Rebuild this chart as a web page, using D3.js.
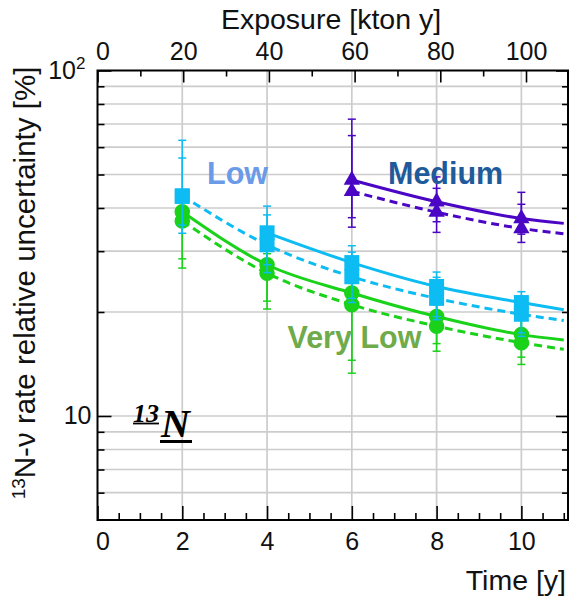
<!DOCTYPE html>
<html>
<head>
<meta charset="utf-8">
<script src="https://cdn.jsdelivr.net/npm/d3@7"></script>
<style>
  body { margin: 0; background: #fff; }
  svg { display: block; font-family: "Liberation Sans", Arial, sans-serif; }
</style>
</head>
<body>
<div id="chart"></div>
<script>
/* 13N-nu rate relative uncertainty vs time */

const timeTicks = [0, 2, 4, 6, 8, 10];
const timeMinor = [0.5, 1, 1.5, 2.5, 3, 3.5, 4.5, 5, 5.5, 6.5, 7, 7.5, 8.5, 9, 9.5, 10.5, 11];
const exposureTicks = [0, 20, 40, 60, 80, 100];
const exposureMinor = [10, 30, 50, 70, 90];
const yMajor = [10, 100];
const yMinor = [6, 7, 8, 9, 20, 30, 40, 50, 60, 70, 80, 90];

const markerTimes = [2, 4, 6, 8, 10];
const mediumTimes = [6, 8, 10];

// Very Low (green circles)
const vlowA   = [39.0, 27.4, 22.7, 19.4, 17.2];
const vlowAHi = [40.5, 30.3, 24.8, 21.4, 19.3];
const vlowALo = [26.8, 20.4, 13.3, 15.4, 14.1];
const vlowB   = [36.7, 25.9, 21.0, 18.2, 16.3];
const vlowBHi = [38.5, 29.5, 24.2, 21.0, 19.0];
const vlowBLo = [28.5, 21.5, 14.5, 16.2, 14.8];

// Low (cyan squares)
const lowA   = [43.4, 33.9, 27.8, 23.7, 21.3];
const lowAHi = [62.8, 40.5, 31.1, 26.1, 22.9];
const lowALo = [33.8, 26.0, 21.9, 19.4, 17.4];
const lowB   = [43.2, 31.3, 25.3, 21.9, 19.7];
const lowBHi = [55.8, 38.2, 29.8, 25.2, 22.0];
const lowBLo = [35.7, 27.4, 21.3, 19.0, 17.0];

// Medium (purple triangles)
const medA   = [48.2, 41.7, 37.3];
const medAHi = [72.3, 49.2, 44.4];
const medALo = [37.5, 36.5, 33.6];
const medB   = [44.7, 38.9, 34.9];
const medBHi = [64.8, 45.6, 41.0];
const medBLo = [35.2, 34.0, 31.8];

// fitted curves (solid / dashed)
const fitTimes     = [2, 4, 6, 8, 10, 11];
const vlowSolidFit = [39.0, 27.4, 22.7, 19.4, 17.2, 16.6];
const vlowDashFit  = [36.7, 25.9, 21.0, 18.2, 16.3, 15.6];
const lowSolidFit  = [null, 33.9, 27.8, 23.7, 21.3, 20.3];
const lowDashFit   = [43.4, 31.3, 25.3, 21.9, 19.7, 18.9];
const medSolidFit  = [null, null, 48.2, 41.7, 37.3, 36.1];
const medDashFit   = [null, null, 44.7, 38.9, 34.9, 33.7];

const width = 569,
      height = 599,
      margin = ({ top: 70.5, right: 1, bottom: 79, left: 97.5 });

const colVLow = "#19d219",
      colLow = "#0cbcf2",
      colMed = "#4a06c4";

let svg = d3.select("#chart")
            .append("svg")
            .attr("width", width)
            .attr("height", height)
            .attr("viewBox", [0, 0, width, height]);

const x = d3.scaleLinear()
            .domain([0, 11.1])
            .range([margin.left, width - margin.right]);

const xTop = d3.scaleLinear()
            .domain([0, 109.8])
            .range([margin.left, width - margin.right]);

const y = d3.scaleLog()
            .domain([5, 100])
            .range([height - margin.bottom, margin.top]);

const x0 = margin.left, x1 = width - margin.right,
      y0 = height - margin.bottom, y1 = margin.top;

// grid
const grid = svg.append("g").attr("stroke", "#cccccc").attr("stroke-width", 1.7);
grid.selectAll(".gx")
    .data(timeTicks.filter(d => d > 0))
    .join("line")
    .attr("x1", d => x(d)).attr("x2", d => x(d))
    .attr("y1", y0).attr("y2", y1);
grid.selectAll(".gy")
    .data(yMinor.concat([10]))
    .join("line")
    .attr("x1", x0).attr("x2", x1)
    .attr("y1", d => y(d)).attr("y2", d => y(d));

// one group of points: curves, error bars, markers
function drawGroup(times, series, fits, color, symbol, size) {
    const g = svg.append("g");

    const line = d3.line()
        .defined(d => d[1] != null)
        .x(d => x(d[0]))
        .y(d => y(d[1]))
        .curve(d3.curveMonotoneX);

    fits.forEach((f, i) => {
        g.append("path")
            .attr("d", line(fitTimes.map((t, j) => [t, f[j]])))
            .attr("fill", "none")
            .attr("stroke", color)
            .attr("stroke-width", 3)
            .attr("stroke-dasharray", i === 1 ? "8,5" : null);
    });

    for (let s of series) {
        const pts = times.map((t, j) => ({ t: t, v: s.v[j], hi: s.hi[j], lo: s.lo[j] }));
        const eb = g.append("g").attr("stroke", color).attr("stroke-width", 1.5);
        eb.selectAll(".bar").data(pts).join("line")
            .attr("x1", d => x(d.t)).attr("x2", d => x(d.t))
            .attr("y1", d => y(d.lo)).attr("y2", d => y(d.hi));
        eb.selectAll(".capHi").data(pts).join("line")
            .attr("x1", d => x(d.t) - 4).attr("x2", d => x(d.t) + 4)
            .attr("y1", d => y(d.hi)).attr("y2", d => y(d.hi));
        eb.selectAll(".capLo").data(pts).join("line")
            .attr("x1", d => x(d.t) - 4).attr("x2", d => x(d.t) + 4)
            .attr("y1", d => y(d.lo)).attr("y2", d => y(d.lo));
    }
    for (let s of series) {
        g.selectAll(null).data(times.map((t, j) => [t, s.v[j]])).join("path")
            .attr("transform", d => `translate(${x(d[0])},${y(d[1])})`)
            .attr("d", d3.symbol(symbol, size))
            .attr("fill", color);
    }
}

drawGroup(markerTimes,
    [{ v: vlowA, hi: vlowAHi, lo: vlowALo }, { v: vlowB, hi: vlowBHi, lo: vlowBLo }],
    [vlowSolidFit, vlowDashFit], colVLow, d3.symbolCircle, 190);

drawGroup(markerTimes,
    [{ v: lowA, hi: lowAHi, lo: lowALo }, { v: lowB, hi: lowBHi, lo: lowBLo }],
    [lowSolidFit, lowDashFit], colLow, d3.symbolSquare, 225);

drawGroup(mediumTimes,
    [{ v: medA, hi: medAHi, lo: medALo }, { v: medB, hi: medBHi, lo: medBLo }],
    [medSolidFit, medDashFit], colMed, d3.symbolTriangle, 115);

// frame
svg.append("rect")
    .attr("x", x0).attr("y", y1)
    .attr("width", x1 - x0).attr("height", y0 - y1)
    .attr("fill", "none").attr("stroke", "#000").attr("stroke-width", 2);

// axes
const tickStyle = g => {
    g.select(".domain").remove();
    g.selectAll("line").attr("stroke", "#000").attr("stroke-width", 1.6);
    g.selectAll("text").attr("font-size", 25).attr("fill", "#111")
        .attr("font-family", "Liberation Sans, Arial, sans-serif");
};

svg.append("g")
    .attr("transform", `translate(0,${y0})`)
    .call(d3.axisBottom(x).tickValues(timeTicks).tickSize(-14).tickPadding(12).tickFormat(d3.format("d")))
    .call(tickStyle)
    .call(g => g.selectAll("text").filter(d => d === 0).attr("dx", 5));

svg.append("g")
    .attr("transform", `translate(0,${y0})`)
    .call(d3.axisBottom(x).tickValues(timeMinor).tickSize(-7).tickFormat(""))
    .call(tickStyle);

svg.append("g")
    .attr("transform", `translate(0,${y1})`)
    .call(d3.axisTop(xTop).tickValues(exposureTicks).tickSize(-12).tickPadding(10.5).tickFormat(d3.format("d")))
    .call(tickStyle)
    .call(g => g.selectAll("text").filter(d => d === 0).attr("dx", 5));

svg.append("g")
    .attr("transform", `translate(0,${y1})`)
    .call(d3.axisTop(xTop).tickValues(exposureMinor).tickSize(-6).tickFormat(""))
    .call(tickStyle);

svg.append("g")
    .attr("transform", `translate(${x0},0)`)
    .call(d3.axisLeft(y).tickValues(yMajor).tickSize(-14).tickPadding(6).tickFormat(() => "10"))
    .call(tickStyle)
    .call(g => g.selectAll("text").filter(d => d === 100)
        .attr("dx", -6)
        .append("tspan").text("2").attr("font-size", 17).attr("dy", -10));

svg.append("g")
    .attr("transform", `translate(${x0},0)`)
    .call(d3.axisLeft(y).tickValues(yMinor).tickSize(-7).tickFormat(""))
    .call(tickStyle);

svg.append("g")
    .attr("transform", `translate(${x1},0)`)
    .call(d3.axisRight(y).tickValues(yMajor).tickSize(-12).tickFormat(""))
    .call(tickStyle);

svg.append("g")
    .attr("transform", `translate(${x1},0)`)
    .call(d3.axisRight(y).tickValues(yMinor).tickSize(-6).tickFormat(""))
    .call(tickStyle);

// axis titles
svg.append("text")
    .attr("x", 331).attr("y", 28.5)
    .attr("text-anchor", "middle")
    .attr("font-size", 28.5).attr("fill", "#111")
    .text("Exposure [kton y]");

svg.append("text")
    .attr("x", 566).attr("y", 590)
    .attr("text-anchor", "end")
    .attr("font-size", 28.5).attr("fill", "#111")
    .text("Time [y]");

const yTitle = svg.append("text")
    .attr("transform", "translate(35,283) rotate(-90)")
    .attr("text-anchor", "middle")
    .attr("font-size", 29.5).attr("fill", "#111");
yTitle.append("tspan").text("13").attr("font-size", 19).attr("dy", -10);
yTitle.append("tspan").text("N-\u03bd rate relative uncertainty [%]").attr("dy", 10);

// group labels
const labels = [
    { text: "Low", x: 207, y: 183.5, color: "#6a9ae8" },
    { text: "Medium", x: 388, y: 183.5, color: "#1f5b9b" },
    { text: "Very Low", x: 287.5, y: 347.5, color: "#6fab4a" }
];
svg.selectAll(".lab").data(labels).join("text")
    .attr("x", d => d.x).attr("y", d => d.y)
    .attr("font-size", 30.5).attr("font-weight", "bold")
    .attr("fill", d => d.color)
    .text(d => d.text);

// 13N tag with underlines
const tag = svg.append("g")
    .attr("font-family", "Liberation Serif, Times New Roman, serif")
    .attr("font-weight", "bold").attr("font-style", "italic").attr("fill", "#000");
const t13 = tag.append("text").attr("x", 133).attr("y", 422).attr("font-size", 26).text("13");
const tN = tag.append("text").attr("x", 161).attr("y", 436.5).attr("font-size", 40).text("N");
for (let [el, off, w] of [[t13, 1.5, 1.8], [tN, 5, 3]]) {
    const b = el.node().getBBox();
    tag.append("line")
        .attr("x1", b.x).attr("x2", b.x + b.width)
        .attr("y1", +el.attr("y") + off).attr("y2", +el.attr("y") + off)
        .attr("stroke", "#000").attr("stroke-width", w);
}
</script>
</body>
</html>
